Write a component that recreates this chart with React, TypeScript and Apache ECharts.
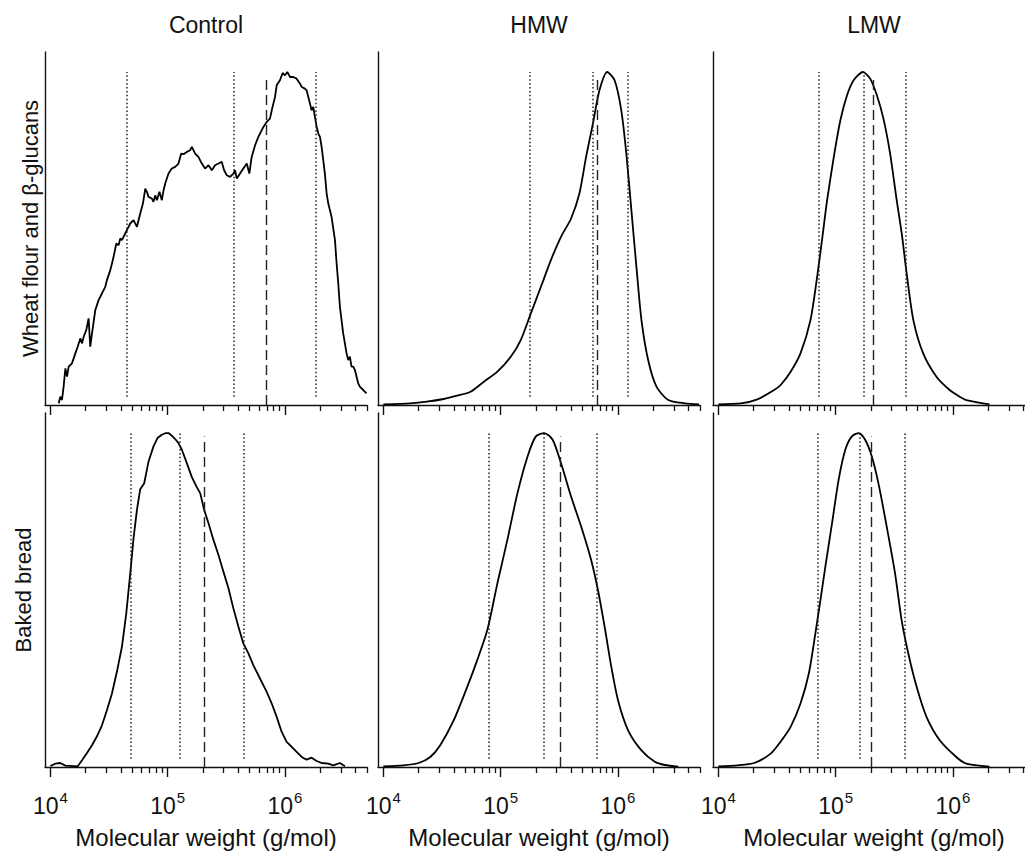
import React, { useEffect, useRef } from "react";
import * as echarts from "echarts";

const FONT = '"Liberation Sans", Arial, Helvetica, sans-serif';

// ---- data (x: log10 molecular weight, y: relative signal, % of peak) ----
const controlFlourLogMw = [4.071,4.085,4.099,4.113,4.128,4.142,4.156,4.184,4.213,4.233,4.255,4.270,4.284,4.306,4.326,4.340,4.355,4.383,4.397,4.411,4.426,4.440,4.468,4.482,4.511,4.525,4.539,4.562,4.582,4.596,4.610,4.638,4.652,4.681,4.709,4.738,4.766,4.789,4.809,4.823,4.837,4.865,4.879,4.894,4.908,4.930,4.950,4.965,4.979,5.007,5.035,5.064,5.092,5.115,5.135,5.163,5.191,5.206,5.234,5.262,5.291,5.319,5.348,5.376,5.404,5.433,5.461,5.481,5.504,5.532,5.560,5.574,5.589,5.617,5.645,5.674,5.696,5.716,5.745,5.773,5.816,5.844,5.872,5.887,5.915,5.929,5.957,5.980,6.000,6.020,6.043,6.071,6.099,6.128,6.142,6.170,6.184,6.213,6.227,6.241,6.255,6.270,6.284,6.298,6.312,6.326,6.340,6.355,6.369,6.397,6.426,6.440,6.454,6.468,6.496,6.525,6.539,6.553,6.567,6.582,6.596,6.610,6.624,6.638,6.667,6.695];
const controlFlourSignal = [0.5,2.5,1.5,5.5,11,8.5,11.5,12.5,15.5,17.5,20,18.5,20.5,22.5,26,17.5,21.5,28.5,30,31.5,32.5,33.5,35.5,37.5,40.5,42.5,44.5,48.5,48,50,49.5,51.5,52.5,54.5,55.5,53.5,57.5,60.5,65,64,62.5,62,61,63,61.5,64,61.5,64.5,66.5,69.5,71,71.5,72.5,75.5,75.3,76,76.5,77.5,75.5,74.5,72.5,71,72,70.5,72,72.5,73,70.5,69,68.5,69.5,70.5,68,69.5,71,72.5,69.5,74.5,78,80.5,83.5,85,86,88.5,92.5,96,97.5,99.7,99,100,98.5,98.5,98,96.5,95.5,95,94.5,90.5,88.5,89.5,86.5,83.5,81.5,80.5,77.5,73.5,69.5,63.5,60.5,56.5,49.5,42.5,36.5,29.5,21.5,15.5,13.5,14.5,11.5,11.5,10.5,8.5,6.5,5.5,4.5,3.5];

const controlBreadLogMw = [4.000,4.043,4.085,4.128,4.233,4.270,4.312,4.355,4.397,4.440,4.482,4.525,4.567,4.610,4.647,4.681,4.709,4.738,4.766,4.800,4.837,4.879,4.913,4.950,4.984,5.007,5.035,5.064,5.092,5.121,5.163,5.206,5.248,5.277,5.311,5.348,5.390,5.433,5.475,5.518,5.560,5.603,5.645,5.688,5.730,5.787,5.844,5.887,5.929,5.972,6.014,6.057,6.099,6.142,6.184,6.227,6.270,6.312,6.369,6.411,6.468,6.511];
const controlBreadSignal = [0.3,1.0,1.2,0.4,0.2,2,4.2,6.5,9.2,12.5,17,22,28.5,36,46,58,68.5,77,83.2,85,91.5,96,98.5,99.5,100,100,99.2,98.2,97,95,91,86.8,83.8,82,77,73,68,63.5,58.5,53.5,47.5,42,37,34,30.5,26.5,22.5,19,15,10.5,7.5,6,4.5,3,2.2,2.8,1.8,1.2,1.0,0.5,1.2,0.2];

const hmwFlourLogMw = [4.000,4.229,4.371,4.514,4.629,4.743,4.857,4.972,5.086,5.171,5.257,5.343,5.428,5.514,5.600,5.671,5.728,5.786,5.842,5.908,5.971,6.028,6.071,6.114,6.157,6.200,6.257,6.328,6.428,6.571,6.690];
const hmwFlourSignal = [0.2,0.5,1.0,1.8,2.8,4.0,7.0,10,14.5,19.5,27.5,35.5,43.5,50.5,56,63.5,74.5,84.5,94.5,100,97.5,88.5,75.5,58.5,41.5,25.5,13.5,5.5,1.5,0.5,0.2];

const hmwBreadLogMw = [4.000,4.171,4.300,4.400,4.486,4.600,4.715,4.800,4.886,4.972,5.057,5.143,5.229,5.300,5.371,5.443,5.514,5.600,5.686,5.771,5.829,5.886,5.943,6.000,6.086,6.200,6.314,6.400,6.514];
const hmwBreadSignal = [0.2,0.5,1.2,3,6.6,14,24,32,41,55,68,82,93,99,100,98,91,81,72,62,53,42,30,20,11,5,1.6,0.6,0.1];

const lmwFlourLogMw = [4.000,4.192,4.333,4.475,4.531,4.616,4.700,4.785,4.842,4.887,4.927,4.984,5.040,5.097,5.153,5.232,5.294,5.351,5.407,5.464,5.520,5.563,5.605,5.662,5.746,5.859,5.972,6.057,6.113,6.311];
const lmwFlourSignal = [0.2,0.5,1.7,4.5,6.0,10,15.5,25.5,38.5,50.5,61.5,74.5,85.5,93,97.5,100,98,93,86,75.5,61.5,51.5,39.5,25.5,15.5,8.5,4.5,2.5,1.5,0.2];

const lmwBreadLogMw = [4.000,4.164,4.305,4.446,4.531,4.616,4.700,4.771,4.827,4.870,4.912,4.969,5.025,5.082,5.138,5.197,5.251,5.308,5.364,5.435,5.506,5.562,5.619,5.690,5.774,5.887,6.028,6.113,6.311];
const lmwBreadSignal = [0.2,0.5,1.2,4,7.6,12,19,28,40,50,60,73,86,95,99,100,98,93,85,72,58,44,34,24,15,8,3,1,0.1];

// vertical reference lines (g/mol): dotted, dotted, dashed, dotted
const markerKinds = ["dotted", "dotted", "dashed", "dotted"];
const controlFlourMarkers = [45000, 363000, 698000, 1840000];
const controlBreadMarkers = [48900, 127700, 204600, 448000];
const hmwFlourMarkers = [178000, 608000, 662000, 1220000];
const hmwBreadMarkers = [78500, 231600, 319000, 662000];
const lmwFlourMarkers = [72300, 171800, 211000, 392000];
const lmwBreadMarkers = [70000, 160700, 202000, 384600];

const columnTitles = ["Control", "HMW", "LMW"];
const rowTitles = ["Wheat flour and \u03b2-glucans", "Baked bread"];
const xAxisTitle = "Molecular weight (g/mol)";
const majorTickValues = [1e4, 1e5, 1e6];
const minorTickValues = [2e4,3e4,4e4,5e4,6e4,7e4,8e4,9e4,2e5,3e5,4e5,5e5,6e5,7e5,8e5,9e5,2e6,3e6,4e6,5e6];
const X_MIN = 9000;
const X_MAX = 5e6;
const Y_MAX = 106;

// ---- layout ----
const COL_LEFT = [45, 378, 713];
const COL_CENTER = [206, 539, 874];
const PANEL_W = 322;
const ROW_TOP = [52, 413];
const ROW_H = [353, 354];

const panels = [
  { row: 0, col: 0, x: controlFlourLogMw, y: controlFlourSignal, marks: controlFlourMarkers, smooth: false },
  { row: 0, col: 1, x: hmwFlourLogMw, y: hmwFlourSignal, marks: hmwFlourMarkers, smooth: 0.25 },
  { row: 0, col: 2, x: lmwFlourLogMw, y: lmwFlourSignal, marks: lmwFlourMarkers, smooth: 0.25 },
  { row: 1, col: 0, x: controlBreadLogMw, y: controlBreadSignal, marks: controlBreadMarkers, smooth: false },
  { row: 1, col: 1, x: hmwBreadLogMw, y: hmwBreadSignal, marks: hmwBreadMarkers, smooth: 0.25 },
  { row: 1, col: 2, x: lmwBreadLogMw, y: lmwBreadSignal, marks: lmwBreadMarkers, smooth: 0.25 },
];

const INK = "#111";

function buildOption() {
  const grid: any[] = [];
  const xAxis: any[] = [];
  const yAxis: any[] = [];
  const series: any[] = [];

  panels.forEach((p, i) => {
    grid.push({
      left: COL_LEFT[p.col],
      top: ROW_TOP[p.row],
      width: PANEL_W,
      height: ROW_H[p.row],
      containLabel: false,
      outerBoundsMode: "none",
    });
    const bottom = p.row === 1;
    xAxis.push({
      type: "log",
      logBase: 10,
      gridIndex: i,
      min: X_MIN,
      max: X_MAX,
      position: "bottom",
      axisLine: { show: true, onZero: false, lineStyle: { color: INK, width: 1.4 } },
      axisTick: { show: true, inside: false, length: 10, customValues: majorTickValues, lineStyle: { color: INK, width: 1.4 } },
      minorTick: { show: false },
      splitLine: { show: false },
      axisLabel: {
        show: bottom,
        customValues: majorTickValues,
        margin: 23,
        fontSize: 23,
        fontFamily: FONT,
        color: INK,
        formatter: (v: number) => `{b|10}{s|${Math.round(Math.log10(v))}}`,
        rich: {
          b: { fontSize: 23, fontFamily: FONT, color: INK, lineHeight: 27, verticalAlign: "bottom" },
          s: { fontSize: 15, fontFamily: FONT, color: INK, lineHeight: 27, verticalAlign: "top", padding: [0, 0, 0, 1] },
        },
      },
      name: bottom ? xAxisTitle : "",
      nameLocation: "middle",
      nameGap: 58,
      nameTextStyle: { fontSize: 24, fontFamily: FONT, color: INK },
    });
    xAxis.push({
      type: "log",
      logBase: 10,
      gridIndex: i,
      min: X_MIN,
      max: X_MAX,
      position: "bottom",
      axisLine: { show: false, onZero: false },
      axisTick: { show: true, inside: false, length: 6, customValues: minorTickValues, lineStyle: { color: INK, width: 1.3 } },
      minorTick: { show: false },
      splitLine: { show: false },
      axisLabel: { show: false },
    });
    yAxis.push({
      type: "value",
      gridIndex: i,
      min: 0,
      max: Y_MAX,
      axisLine: { show: true, lineStyle: { color: INK, width: 1.4 } },
      axisTick: { show: false },
      axisLabel: { show: false },
      splitLine: { show: false },
      name: p.col === 0 ? rowTitles[p.row] : "",
      nameLocation: "middle",
      nameRotate: 90,
      nameGap: p.row === 0 ? 4 : 11,
      nameTextStyle: { fontSize: 22, fontFamily: FONT, color: INK },
    });
    series.push({
      type: "line",
      xAxisIndex: 2 * i,
      yAxisIndex: i,
      data: p.x.map((lx, k) => [Math.pow(10, lx), p.y[k]]),
      symbol: "none",
      smooth: p.smooth,
      lineStyle: { color: "#000", width: 1.8 },
      silent: true,
      markLine: {
        silent: true,
        symbol: ["none", "none"],
        label: { show: false },
        data: p.marks.map((mw, k) => {
          const dashed = markerKinds[k] === "dashed";
          return [
            {
              coord: [mw, dashed ? 0 : 2.5],
              lineStyle: dashed
                ? { color: "#222", width: 1.4, type: [10, 5] }
                : { color: "#222", width: 1.5, type: [1.5, 2.4] },
            },
            { coord: [mw, dashed ? 99 : 100] },
          ];
        }),
      },
    });
  });

  const graphic = columnTitles.map((t, c) => ({
    type: "text",
    x: COL_CENTER[c],
    y: 25,
    style: { text: t, fontSize: 23, fontFamily: FONT, fill: INK, align: "center", verticalAlign: "middle" },
  }));

  return {
    animation: false,
    backgroundColor: "#fff",
    grid,
    xAxis,
    yAxis,
    series,
    graphic,
  };
}

export default function App() {
  const ref = useRef<HTMLDivElement>(null);
  useEffect(() => {
    if (!ref.current) return;
    const chart = echarts.init(ref.current, undefined, { renderer: "svg" });
    chart.setOption(buildOption() as any);
    return () => chart.dispose();
  }, []);
  return (
    <div
      ref={ref}
      style={{ position: "absolute", left: 0, top: 0, width: 1025, height: 853, background: "#fff" }}
    />
  );
}
